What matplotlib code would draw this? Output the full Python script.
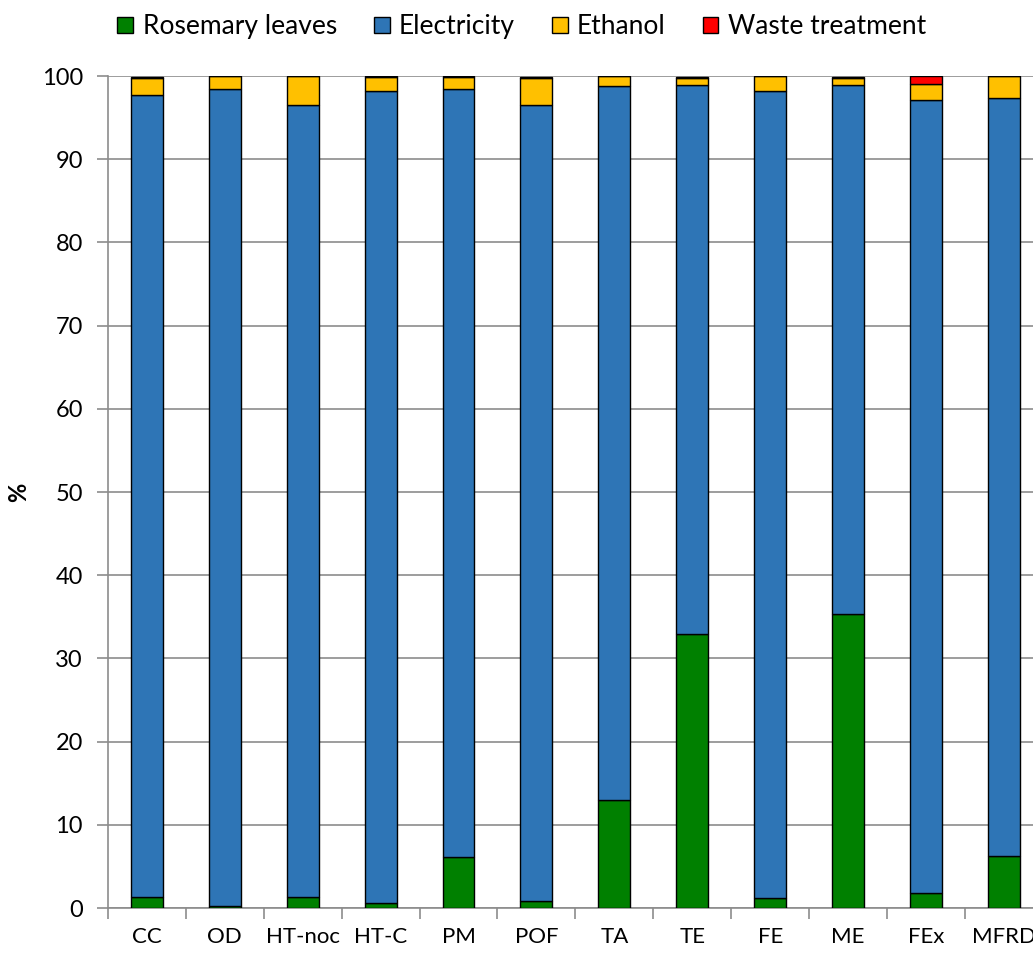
import numpy as np
import matplotlib
matplotlib.use("Agg")
import matplotlib.pyplot as plt
from matplotlib.patches import Patch

plt.rcParams['font.family'] = ['Lato', 'DejaVu Sans']

categories = ["CC", "OD", "HT-noc", "HT-C", "PM", "POF", "TA", "TE", "FE", "ME", "FEx", "MFRD"]
rosemary = [1.3, 0.3, 1.3, 0.6, 6.1, 0.8, 13.0, 32.9, 1.2, 35.3, 1.8, 6.3]
electricity = [96.4, 98.1, 95.2, 97.6, 92.3, 95.7, 85.8, 66.0, 97.0, 63.6, 95.3, 91.0]
ethanol = [2.1, 1.6, 3.5, 1.7, 1.5, 3.3, 1.2, 0.9, 1.8, 0.9, 1.9, 2.7]
waste = [0.1, 0.0, 0.0, 0.05, 0.05, 0.1, 0.0, 0.1, 0.0, 0.1, 1.0, 0.0]

series = [
    ("Rosemary leaves", rosemary, "#008000"),
    ("Electricity", electricity, "#2E75B6"),
    ("Ethanol", ethanol, "#FFC000"),
    ("Waste treatment", waste, "#FF0000"),
]

fig = plt.figure(figsize=(10.33, 9.55), dpi=100)
ax = fig.add_axes([0.1045, 0.0492, 0.905, 0.8712])

x = np.arange(len(categories))
bottom = np.zeros(len(categories))
handles = []
for name, vals, col in series:
    vals = np.array(vals)
    ax.bar(x, vals, 0.41, bottom=bottom, color=col, edgecolor="black",
           linewidth=1.0, zorder=3)
    bottom += vals
    handles.append(Patch(facecolor=col, edgecolor="black", linewidth=1.0, label=name))

ax.set_xlim(-0.5, len(categories) - 0.5)
ax.set_ylim(0, 100)
ax.set_yticks(np.arange(0, 101, 10))
ax.yaxis.grid(True, color="#8c8c8c", linewidth=1.2, zorder=0)
ax.set_axisbelow(True)

for s in ["top", "right"]:
    ax.spines[s].set_visible(False)
ax.spines["left"].set_color("#8c8c8c")
ax.spines["bottom"].set_color("#8c8c8c")
ax.spines["left"].set_linewidth(1.2)
ax.spines["bottom"].set_linewidth(1.2)

ax.set_xticks(x)
ax.set_xticklabels(categories, fontsize=16)
ax.tick_params(axis="x", length=0, pad=14)
ax.set_xticks(np.arange(-0.5, len(categories) + 0.5, 1), minor=True)
ax.tick_params(axis="x", which="minor", length=8, color="#8c8c8c", width=1.2, direction="out")
ax.tick_params(axis="y", length=8, color="#8c8c8c", width=1.2, labelsize=17, pad=10)

ax.set_ylabel("%", fontsize=17, fontweight="bold")
ax.yaxis.set_label_coords(-0.083, 0.5)

fig.legend(handles=handles, loc="upper center", bbox_to_anchor=(0.505, 1.01),
           ncol=4, frameon=False, fontsize=19, handlelength=0.6,
           handleheight=0.6, handletextpad=0.35, columnspacing=1.4)

fig.savefig("out.png", dpi=100)
